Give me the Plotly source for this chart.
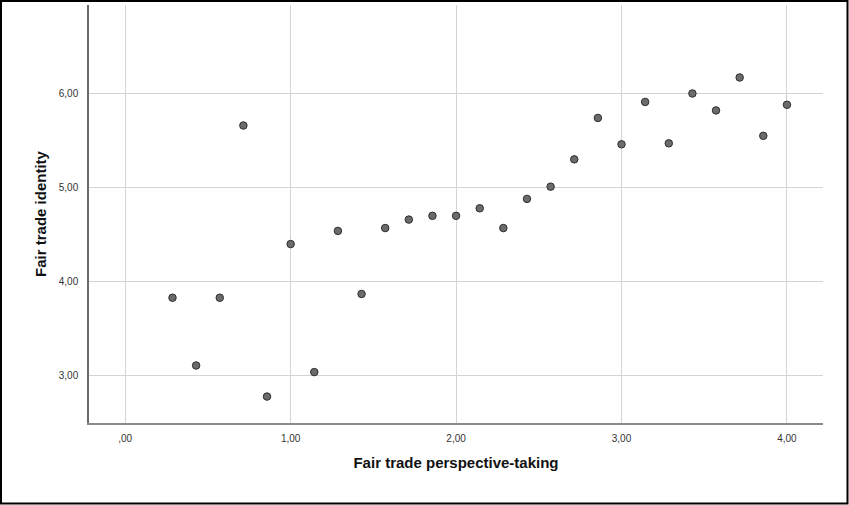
import plotly.graph_objects as go

# Mean fair trade identity per level of fair trade perspective-taking
perspective_taking = [2/7, 3/7, 4/7, 5/7, 6/7, 1.0, 8/7, 9/7, 10/7, 11/7, 12/7, 13/7, 2.0,
                      15/7, 16/7, 17/7, 18/7, 19/7, 20/7, 3.0, 22/7, 23/7, 24/7, 25/7,
                      26/7, 27/7, 4.0]
identity = [3.83, 3.11, 3.83, 5.66, 2.78, 4.40, 3.04, 4.54, 3.87, 4.57, 4.66, 4.70, 4.70,
            4.78, 4.57, 4.88, 5.01, 5.30, 5.74, 5.46, 5.91, 5.47, 6.00, 5.82,
            6.17, 5.55, 5.88]

x_ticks = [0, 1, 2, 3, 4]
x_tick_text = [",00", "1,00", "2,00", "3,00", "4,00"]
y_ticks = [3, 4, 5, 6]
y_tick_text = ["3,00", "4,00", "5,00", "6,00"]

W, H = 849, 505
ML, MR, MT, MB = 89, 26, 5, 82
PW, PH = W - ML - MR, H - MT - MB


def px_to_paper(px, py):
    return (px - ML) / PW, (H - MB - py) / PH


fig = go.Figure()
fig.add_trace(go.Scatter(
    x=perspective_taking, y=identity, mode="markers",
    marker=dict(size=7.5, color="#6b6b6b", line=dict(color="#2e2e2e", width=1)),
    hoverinfo="x+y", showlegend=False,
))

axis_font = dict(family="Liberation Sans, Arial, sans-serif", size=10, color="#333333")
title_font = dict(family="Liberation Sans, Arial, sans-serif", size=15, color="#111111")

fig.update_xaxes(
    range=[-0.219, 4.218], tickvals=x_ticks, ticktext=x_tick_text,
    showgrid=True, gridcolor="#d4d4d4", gridwidth=1.2,
    showline=True, linecolor="#8a8a8a", linewidth=1.5,
    zeroline=False, ticks="", tickfont=axis_font, ticklabelstandoff=5,
    title=dict(text="<b>Fair trade perspective-taking</b>", font=title_font, standoff=15),
)
fig.update_yaxes(
    range=[2.499, 6.94], tickvals=y_ticks, ticktext=y_tick_text,
    showgrid=True, gridcolor="#d4d4d4", gridwidth=1.2,
    showline=True, linecolor="#6a6a6a", linewidth=1.5,
    zeroline=False, ticks="", tickfont=axis_font, ticklabelstandoff=7,
    title=dict(text="<b>Fair trade identity</b>", font=title_font, standoff=9),
)

# outer frame around the whole chart
x0, y0 = px_to_paper(1, 503.5)
x1, y1 = px_to_paper(847.5, 1)
fig.add_shape(type="rect", xref="paper", yref="paper", x0=x0, y0=y0, x1=x1, y1=y1,
              line=dict(color="#000000", width=2))

fig.update_layout(
    width=W, height=H, margin=dict(l=ML, r=MR, t=MT, b=MB, pad=0),
    paper_bgcolor="white", plot_bgcolor="white",
)

fig.write_html("out.html")
